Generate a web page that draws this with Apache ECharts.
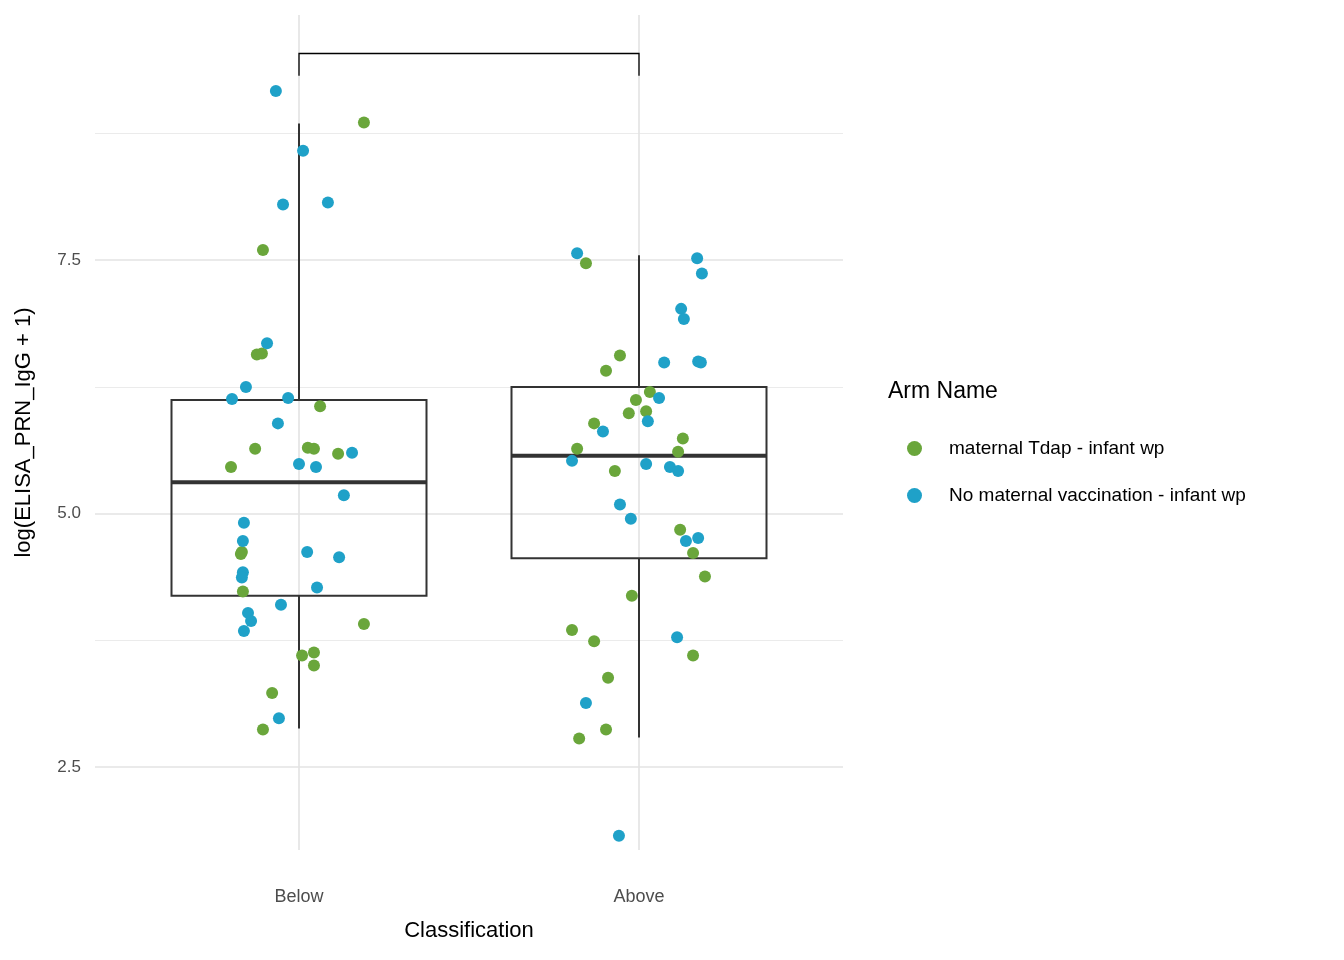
<!DOCTYPE html>
<html><head><meta charset="utf-8">
<script src="https://cdn.jsdelivr.net/npm/echarts@6/dist/echarts.min.js"></script>
<style>html,body{margin:0;padding:0;background:#fff}#c{width:1344px;height:960px}</style>
</head><body><div id="c"></div>
<script>
const categories = ['Below', 'Above'];
const tdapPoints = [
 [1.191,8.86],[0.894,7.60],[0.876,6.57],[0.891,6.58],[1.062,6.06],[0.871,5.64],[0.800,5.46],
 [1.026,5.65],[1.044,5.64],[1.115,5.59],[0.832,4.62],[0.829,4.60],[0.835,4.23],[1.191,3.91],
 [1.009,3.60],[1.044,3.63],[1.044,3.50],[0.921,3.23],[0.894,2.87],
 [1.844,7.47],[1.944,6.56],[1.903,6.41],[2.032,6.20],[1.991,6.12],[1.970,5.99],[2.021,6.01],
 [1.868,5.89],[2.129,5.74],[1.818,5.64],[2.115,5.61],[1.929,5.42],[2.121,4.84],[2.159,4.61],
 [2.194,4.38],[1.979,4.19],[1.803,3.85],[1.868,3.74],[2.159,3.60],[1.909,3.38],[1.903,2.87],[1.824,2.78]
];
const noVaxPoints = [
 [0.932,9.17],[1.012,8.58],[0.953,8.05],[1.085,8.07],[0.906,6.68],[0.844,6.25],[0.803,6.13],
 [0.968,6.14],[0.938,5.89],[1.000,5.49],[1.050,5.46],[1.156,5.60],[1.132,5.18],[0.838,4.91],
 [0.835,4.73],[0.835,4.42],[0.832,4.37],[1.024,4.62],[1.118,4.57],[1.053,4.27],[0.947,4.10],
 [0.850,4.02],[0.859,3.94],[0.838,3.84],[0.941,2.98],
 [1.818,7.57],[2.171,7.52],[2.185,7.37],[2.124,7.02],[2.132,6.92],[2.074,6.49],[2.174,6.50],
 [2.182,6.49],[2.059,6.14],[2.026,5.91],[1.894,5.81],[1.803,5.52],[2.021,5.49],[2.091,5.46],
 [2.115,5.42],[1.944,5.09],[1.976,4.95],[2.174,4.76],[2.138,4.73],[2.112,3.78],[1.844,3.13],[1.941,1.82]
];
// [x, lowerWhisker, Q1, median, Q3, upperWhisker]
const boxStats = [
 [1, 2.88, 4.19, 5.31, 6.12, 8.85],
 [2, 2.79, 4.56, 5.57, 6.25, 7.55]
];
const bracket = [[1, 9.32, 9.54], [2, 9.32, 9.54]];
const yMajor = [2.5, 5, 7.5];
const yMinor = [3.75, 6.25, 8.75];

const chart = echarts.init(document.getElementById('c'));
const FONT = 'Liberation Sans';
const boxW = 0.75;
chart.setOption({
  animation: false,
  textStyle: {fontFamily: FONT},
  grid: {left: 95, right: 501, top: 15, bottom: 110},
  xAxis: {type: 'value', min: 0.4, max: 2.6,
    name: 'Classification', nameLocation: 'middle', nameGap: 70,
    nameTextStyle: {fontSize: 22, color: '#000', fontFamily: FONT},
    axisLine: {show: false}, axisTick: {show: false}, splitLine: {show: false},
    axisLabel: {customValues: [1, 2], formatter: v => categories[Math.round(v) - 1], fontSize: 18, color: '#4d4d4d', margin: 38}},
  yAxis: {type: 'value', min: 1.68, max: 9.92,
    name: 'log(ELISA_PRN_IgG + 1)', nameLocation: 'middle', nameGap: 60,
    nameTextStyle: {fontSize: 22, color: '#000', fontFamily: FONT},
    axisLine: {show: false}, axisTick: {show: false}, splitLine: {show: false},
    axisLabel: {customValues: yMajor, formatter: v => v.toFixed(1), fontSize: 17, color: '#4d4d4d', margin: 14}},
  legend: {left: 902, top: 434, orient: 'vertical', itemGap: 28, icon: 'circle', itemWidth: 15, itemHeight: 15,
    textStyle: {fontSize: 19, color: '#000', padding: [0, 0, 0, 22]},
    data: ['maternal Tdap - infant wp', 'No maternal vaccination - infant wp']},
  graphic: [{type: 'text', left: 888, top: 380, style: {text: 'Arm Name', fontSize: 23, fill: '#000', fontFamily: FONT}}],
  series: [
    {type: 'line', data: [], silent: true, z: 0,
      markLine: {silent: true, symbol: 'none', label: {show: false}, z: 0,
        data: [
          ...yMinor.map(v => ({yAxis: v, lineStyle: {color: '#ebebeb', width: 1, type: 'solid'}})),
          ...yMajor.map(v => ({yAxis: v, lineStyle: {color: '#e3e3e3', width: 1.6, type: 'solid'}})),
          ...[1, 2].map(v => ({xAxis: v, lineStyle: {color: '#e3e3e3', width: 1.6, type: 'solid'}}))
        ]}},
    {type: 'custom', data: boxStats, silent: true, z: 4,
      renderItem: (params, api) => {
        const x = api.value(0);
        const lo = api.coord([x, api.value(1)]), q1 = api.coord([x - boxW/2, api.value(2)]);
        const med = api.coord([x, api.value(3)]), q3 = api.coord([x + boxW/2, api.value(4)]);
        const hi = api.coord([x, api.value(5)]);
        const l = q1[0], r = q3[0];
        const st = {stroke: '#333', lineWidth: 2, fill: null};
        return {type: 'group', children: [
          {type: 'line', shape: {x1: lo[0], y1: lo[1], x2: lo[0], y2: q1[1]}, style: st},
          {type: 'line', shape: {x1: hi[0], y1: hi[1], x2: hi[0], y2: q3[1]}, style: st},
          {type: 'rect', shape: {x: l, y: q3[1], width: r - l, height: q1[1] - q3[1]}, style: st},
          {type: 'line', shape: {x1: l, y1: med[1], x2: r, y2: med[1]}, style: {stroke: '#333', lineWidth: 4}}
        ]};
      }},
    {type: 'custom', data: [0], silent: true, z: 4,
      renderItem: (params, api) => {
        const a = api.coord([bracket[0][0], bracket[0][1]]), a2 = api.coord([bracket[0][0], bracket[0][2]]);
        const b = api.coord([bracket[1][0], bracket[1][1]]), b2 = api.coord([bracket[1][0], bracket[1][2]]);
        return {type: 'polyline', shape: {points: [a, a2, b2, b]}, style: {stroke: '#000', lineWidth: 1.3, fill: null}};
      }},
    {name: 'maternal Tdap - infant wp', type: 'scatter', data: tdapPoints, symbolSize: 12, z: 5,
      itemStyle: {color: '#6aa63b', opacity: 1}},
    {name: 'No maternal vaccination - infant wp', type: 'scatter', data: noVaxPoints, symbolSize: 12, z: 5,
      itemStyle: {color: '#1fa1c8', opacity: 1}}
  ]
});
</script></body></html>
